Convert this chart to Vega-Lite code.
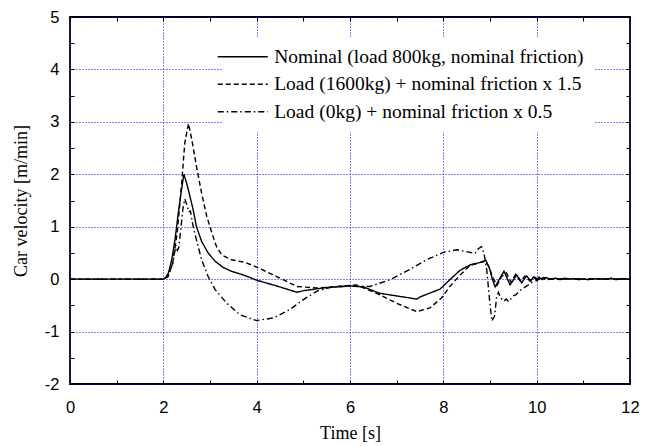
{
  "$schema": "https://vega.github.io/schema/vega-lite/v6.json",
  "width": 560,
  "height": 367,
  "autosize": "none",
  "padding": {"left": 70, "top": 17, "right": 23, "bottom": 62},
  "background": "white",
  "config": {
    "view": {"stroke": "black", "strokeWidth": 1.8},
    "axis": {"domain": false}
  },
  "data": {"values": [
    {"s":"Nominal (load 800kg, nominal friction)","t":0,"v":0},
    {"s":"Nominal (load 800kg, nominal friction)","t":2.0,"v":0},
    {"s":"Nominal (load 800kg, nominal friction)","t":2.05,"v":0.03},
    {"s":"Nominal (load 800kg, nominal friction)","t":2.11,"v":0.12},
    {"s":"Nominal (load 800kg, nominal friction)","t":2.18,"v":0.37},
    {"s":"Nominal (load 800kg, nominal friction)","t":2.25,"v":0.75},
    {"s":"Nominal (load 800kg, nominal friction)","t":2.32,"v":1.26},
    {"s":"Nominal (load 800kg, nominal friction)","t":2.39,"v":1.71},
    {"s":"Nominal (load 800kg, nominal friction)","t":2.44,"v":2.0},
    {"s":"Nominal (load 800kg, nominal friction)","t":2.50,"v":1.83},
    {"s":"Nominal (load 800kg, nominal friction)","t":2.57,"v":1.58},
    {"s":"Nominal (load 800kg, nominal friction)","t":2.64,"v":1.32},
    {"s":"Nominal (load 800kg, nominal friction)","t":2.71,"v":1.0},
    {"s":"Nominal (load 800kg, nominal friction)","t":2.82,"v":0.72},
    {"s":"Nominal (load 800kg, nominal friction)","t":2.96,"v":0.5},
    {"s":"Nominal (load 800kg, nominal friction)","t":3.11,"v":0.34},
    {"s":"Nominal (load 800kg, nominal friction)","t":3.29,"v":0.22},
    {"s":"Nominal (load 800kg, nominal friction)","t":3.46,"v":0.15},
    {"s":"Nominal (load 800kg, nominal friction)","t":3.68,"v":0.09},
    {"s":"Nominal (load 800kg, nominal friction)","t":3.8,"v":0.05},
    {"s":"Nominal (load 800kg, nominal friction)","t":4.0,"v":-0.02},
    {"s":"Nominal (load 800kg, nominal friction)","t":4.43,"v":-0.13},
    {"s":"Nominal (load 800kg, nominal friction)","t":4.86,"v":-0.25},
    {"s":"Nominal (load 800kg, nominal friction)","t":5.0,"v":-0.22},
    {"s":"Nominal (load 800kg, nominal friction)","t":5.5,"v":-0.16},
    {"s":"Nominal (load 800kg, nominal friction)","t":6.0,"v":-0.13},
    {"s":"Nominal (load 800kg, nominal friction)","t":6.29,"v":-0.15},
    {"s":"Nominal (load 800kg, nominal friction)","t":6.64,"v":-0.27},
    {"s":"Nominal (load 800kg, nominal friction)","t":7.07,"v":-0.33},
    {"s":"Nominal (load 800kg, nominal friction)","t":7.43,"v":-0.38},
    {"s":"Nominal (load 800kg, nominal friction)","t":7.5,"v":-0.34},
    {"s":"Nominal (load 800kg, nominal friction)","t":7.93,"v":-0.19},
    {"s":"Nominal (load 800kg, nominal friction)","t":8.14,"v":-0.01},
    {"s":"Nominal (load 800kg, nominal friction)","t":8.36,"v":0.17},
    {"s":"Nominal (load 800kg, nominal friction)","t":8.57,"v":0.27},
    {"s":"Nominal (load 800kg, nominal friction)","t":8.79,"v":0.32},
    {"s":"Nominal (load 800kg, nominal friction)","t":8.91,"v":0.36},
    {"s":"Nominal (load 800kg, nominal friction)","t":9.0,"v":0.18},
    {"s":"Nominal (load 800kg, nominal friction)","t":9.05,"v":0.0},
    {"s":"Nominal (load 800kg, nominal friction)","t":9.11,"v":-0.15},
    {"s":"Nominal (load 800kg, nominal friction)","t":9.2,"v":0.0},
    {"s":"Nominal (load 800kg, nominal friction)","t":9.3,"v":0.15},
    {"s":"Nominal (load 800kg, nominal friction)","t":9.36,"v":0.03},
    {"s":"Nominal (load 800kg, nominal friction)","t":9.43,"v":-0.11},
    {"s":"Nominal (load 800kg, nominal friction)","t":9.5,"v":-0.02},
    {"s":"Nominal (load 800kg, nominal friction)","t":9.57,"v":0.08},
    {"s":"Nominal (load 800kg, nominal friction)","t":9.62,"v":0.02},
    {"s":"Nominal (load 800kg, nominal friction)","t":9.68,"v":-0.07},
    {"s":"Nominal (load 800kg, nominal friction)","t":9.73,"v":0.0},
    {"s":"Nominal (load 800kg, nominal friction)","t":9.79,"v":0.06},
    {"s":"Nominal (load 800kg, nominal friction)","t":9.87,"v":-0.04},
    {"s":"Nominal (load 800kg, nominal friction)","t":9.93,"v":0.04},
    {"s":"Nominal (load 800kg, nominal friction)","t":10.0,"v":-0.02},
    {"s":"Nominal (load 800kg, nominal friction)","t":10.05,"v":0.04},
    {"s":"Nominal (load 800kg, nominal friction)","t":10.12,"v":-0.01},
    {"s":"Nominal (load 800kg, nominal friction)","t":10.2,"v":0.03},
    {"s":"Nominal (load 800kg, nominal friction)","t":10.3,"v":0.0},
    {"s":"Nominal (load 800kg, nominal friction)","t":10.4,"v":0.02},
    {"s":"Nominal (load 800kg, nominal friction)","t":10.5,"v":-0.01},
    {"s":"Nominal (load 800kg, nominal friction)","t":10.6,"v":0.02},
    {"s":"Nominal (load 800kg, nominal friction)","t":10.7,"v":0.0},
    {"s":"Nominal (load 800kg, nominal friction)","t":10.8,"v":0.01},
    {"s":"Nominal (load 800kg, nominal friction)","t":10.9,"v":-0.01},
    {"s":"Nominal (load 800kg, nominal friction)","t":11.0,"v":0.01},
    {"s":"Nominal (load 800kg, nominal friction)","t":11.1,"v":-0.01},
    {"s":"Nominal (load 800kg, nominal friction)","t":11.3,"v":0.01},
    {"s":"Nominal (load 800kg, nominal friction)","t":11.5,"v":0.0},
    {"s":"Nominal (load 800kg, nominal friction)","t":11.6,"v":0.02},
    {"s":"Nominal (load 800kg, nominal friction)","t":11.7,"v":-0.01},
    {"s":"Nominal (load 800kg, nominal friction)","t":11.85,"v":0.01},
    {"s":"Nominal (load 800kg, nominal friction)","t":12.0,"v":0.0},

    {"s":"Load (1600kg) + nominal friction x 1.5","t":0,"v":0},
    {"s":"Load (1600kg) + nominal friction x 1.5","t":2.0,"v":0},
    {"s":"Load (1600kg) + nominal friction x 1.5","t":2.1,"v":0.05},
    {"s":"Load (1600kg) + nominal friction x 1.5","t":2.2,"v":0.3},
    {"s":"Load (1600kg) + nominal friction x 1.5","t":2.3,"v":0.9},
    {"s":"Load (1600kg) + nominal friction x 1.5","t":2.39,"v":1.8},
    {"s":"Load (1600kg) + nominal friction x 1.5","t":2.46,"v":2.6},
    {"s":"Load (1600kg) + nominal friction x 1.5","t":2.54,"v":2.97},
    {"s":"Load (1600kg) + nominal friction x 1.5","t":2.61,"v":2.66},
    {"s":"Load (1600kg) + nominal friction x 1.5","t":2.71,"v":2.15},
    {"s":"Load (1600kg) + nominal friction x 1.5","t":2.82,"v":1.64},
    {"s":"Load (1600kg) + nominal friction x 1.5","t":2.93,"v":1.2},
    {"s":"Load (1600kg) + nominal friction x 1.5","t":3.04,"v":0.88},
    {"s":"Load (1600kg) + nominal friction x 1.5","t":3.14,"v":0.62},
    {"s":"Load (1600kg) + nominal friction x 1.5","t":3.25,"v":0.46},
    {"s":"Load (1600kg) + nominal friction x 1.5","t":3.46,"v":0.37},
    {"s":"Load (1600kg) + nominal friction x 1.5","t":3.75,"v":0.32},
    {"s":"Load (1600kg) + nominal friction x 1.5","t":4.0,"v":0.23},
    {"s":"Load (1600kg) + nominal friction x 1.5","t":4.43,"v":0.05},
    {"s":"Load (1600kg) + nominal friction x 1.5","t":4.86,"v":-0.14},
    {"s":"Load (1600kg) + nominal friction x 1.5","t":5.29,"v":-0.17},
    {"s":"Load (1600kg) + nominal friction x 1.5","t":5.71,"v":-0.14},
    {"s":"Load (1600kg) + nominal friction x 1.5","t":6.14,"v":-0.11},
    {"s":"Load (1600kg) + nominal friction x 1.5","t":6.57,"v":-0.27},
    {"s":"Load (1600kg) + nominal friction x 1.5","t":7.0,"v":-0.46},
    {"s":"Load (1600kg) + nominal friction x 1.5","t":7.43,"v":-0.62},
    {"s":"Load (1600kg) + nominal friction x 1.5","t":7.71,"v":-0.55},
    {"s":"Load (1600kg) + nominal friction x 1.5","t":7.96,"v":-0.36},
    {"s":"Load (1600kg) + nominal friction x 1.5","t":8.14,"v":-0.14},
    {"s":"Load (1600kg) + nominal friction x 1.5","t":8.36,"v":0.08},
    {"s":"Load (1600kg) + nominal friction x 1.5","t":8.57,"v":0.26},
    {"s":"Load (1600kg) + nominal friction x 1.5","t":8.76,"v":0.31},
    {"s":"Load (1600kg) + nominal friction x 1.5","t":8.9,"v":0.34},
    {"s":"Load (1600kg) + nominal friction x 1.5","t":8.97,"v":0.25},
    {"s":"Load (1600kg) + nominal friction x 1.5","t":9.05,"v":0.05},
    {"s":"Load (1600kg) + nominal friction x 1.5","t":9.15,"v":-0.12},
    {"s":"Load (1600kg) + nominal friction x 1.5","t":9.25,"v":0.05},
    {"s":"Load (1600kg) + nominal friction x 1.5","t":9.35,"v":0.12},
    {"s":"Load (1600kg) + nominal friction x 1.5","t":9.45,"v":-0.06},
    {"s":"Load (1600kg) + nominal friction x 1.5","t":9.55,"v":0.09},
    {"s":"Load (1600kg) + nominal friction x 1.5","t":9.65,"v":-0.04},
    {"s":"Load (1600kg) + nominal friction x 1.5","t":9.75,"v":0.06},
    {"s":"Load (1600kg) + nominal friction x 1.5","t":9.85,"v":-0.03},
    {"s":"Load (1600kg) + nominal friction x 1.5","t":9.95,"v":0.04},
    {"s":"Load (1600kg) + nominal friction x 1.5","t":10.05,"v":-0.01},
    {"s":"Load (1600kg) + nominal friction x 1.5","t":10.15,"v":0.03},
    {"s":"Load (1600kg) + nominal friction x 1.5","t":10.3,"v":0.0},
    {"s":"Load (1600kg) + nominal friction x 1.5","t":10.5,"v":0.01},
    {"s":"Load (1600kg) + nominal friction x 1.5","t":11.0,"v":0.0},
    {"s":"Load (1600kg) + nominal friction x 1.5","t":12.0,"v":0.0},

    {"s":"Load (0kg) + nominal friction x 0.5","t":0,"v":0},
    {"s":"Load (0kg) + nominal friction x 0.5","t":2.0,"v":0},
    {"s":"Load (0kg) + nominal friction x 0.5","t":2.1,"v":0.05},
    {"s":"Load (0kg) + nominal friction x 0.5","t":2.2,"v":0.3},
    {"s":"Load (0kg) + nominal friction x 0.5","t":2.27,"v":0.65},
    {"s":"Load (0kg) + nominal friction x 0.5","t":2.3,"v":0.55},
    {"s":"Load (0kg) + nominal friction x 0.5","t":2.33,"v":0.6},
    {"s":"Load (0kg) + nominal friction x 0.5","t":2.38,"v":1.0},
    {"s":"Load (0kg) + nominal friction x 0.5","t":2.42,"v":1.35},
    {"s":"Load (0kg) + nominal friction x 0.5","t":2.46,"v":1.53},
    {"s":"Load (0kg) + nominal friction x 0.5","t":2.51,"v":1.4},
    {"s":"Load (0kg) + nominal friction x 0.5","t":2.54,"v":1.28},
    {"s":"Load (0kg) + nominal friction x 0.5","t":2.58,"v":1.3},
    {"s":"Load (0kg) + nominal friction x 0.5","t":2.64,"v":1.0},
    {"s":"Load (0kg) + nominal friction x 0.5","t":2.71,"v":0.75},
    {"s":"Load (0kg) + nominal friction x 0.5","t":2.82,"v":0.37},
    {"s":"Load (0kg) + nominal friction x 0.5","t":2.96,"v":0.05},
    {"s":"Load (0kg) + nominal friction x 0.5","t":3.11,"v":-0.2},
    {"s":"Load (0kg) + nominal friction x 0.5","t":3.36,"v":-0.46},
    {"s":"Load (0kg) + nominal friction x 0.5","t":3.64,"v":-0.68},
    {"s":"Load (0kg) + nominal friction x 0.5","t":4.0,"v":-0.79},
    {"s":"Load (0kg) + nominal friction x 0.5","t":4.36,"v":-0.74},
    {"s":"Load (0kg) + nominal friction x 0.5","t":4.71,"v":-0.58},
    {"s":"Load (0kg) + nominal friction x 0.5","t":5.0,"v":-0.39},
    {"s":"Load (0kg) + nominal friction x 0.5","t":5.29,"v":-0.23},
    {"s":"Load (0kg) + nominal friction x 0.5","t":5.57,"v":-0.16},
    {"s":"Load (0kg) + nominal friction x 0.5","t":6.0,"v":-0.13},
    {"s":"Load (0kg) + nominal friction x 0.5","t":6.43,"v":-0.14},
    {"s":"Load (0kg) + nominal friction x 0.5","t":6.86,"v":-0.01},
    {"s":"Load (0kg) + nominal friction x 0.5","t":7.29,"v":0.19},
    {"s":"Load (0kg) + nominal friction x 0.5","t":7.64,"v":0.37},
    {"s":"Load (0kg) + nominal friction x 0.5","t":8.0,"v":0.51},
    {"s":"Load (0kg) + nominal friction x 0.5","t":8.29,"v":0.56},
    {"s":"Load (0kg) + nominal friction x 0.5","t":8.57,"v":0.51},
    {"s":"Load (0kg) + nominal friction x 0.5","t":8.68,"v":0.49},
    {"s":"Load (0kg) + nominal friction x 0.5","t":8.75,"v":0.58},
    {"s":"Load (0kg) + nominal friction x 0.5","t":8.82,"v":0.62},
    {"s":"Load (0kg) + nominal friction x 0.5","t":8.87,"v":0.5},
    {"s":"Load (0kg) + nominal friction x 0.5","t":8.93,"v":0.18},
    {"s":"Load (0kg) + nominal friction x 0.5","t":8.99,"v":-0.39},
    {"s":"Load (0kg) + nominal friction x 0.5","t":9.04,"v":-0.8},
    {"s":"Load (0kg) + nominal friction x 0.5","t":9.1,"v":-0.7},
    {"s":"Load (0kg) + nominal friction x 0.5","t":9.14,"v":-0.35},
    {"s":"Load (0kg) + nominal friction x 0.5","t":9.18,"v":-0.25},
    {"s":"Load (0kg) + nominal friction x 0.5","t":9.23,"v":-0.36},
    {"s":"Load (0kg) + nominal friction x 0.5","t":9.3,"v":-0.42},
    {"s":"Load (0kg) + nominal friction x 0.5","t":9.35,"v":-0.38},
    {"s":"Load (0kg) + nominal friction x 0.5","t":9.4,"v":-0.43},
    {"s":"Load (0kg) + nominal friction x 0.5","t":9.5,"v":-0.32},
    {"s":"Load (0kg) + nominal friction x 0.5","t":9.55,"v":-0.3},
    {"s":"Load (0kg) + nominal friction x 0.5","t":9.64,"v":-0.22},
    {"s":"Load (0kg) + nominal friction x 0.5","t":9.7,"v":-0.18},
    {"s":"Load (0kg) + nominal friction x 0.5","t":9.79,"v":-0.13},
    {"s":"Load (0kg) + nominal friction x 0.5","t":9.9,"v":-0.06},
    {"s":"Load (0kg) + nominal friction x 0.5","t":10.0,"v":-0.03},
    {"s":"Load (0kg) + nominal friction x 0.5","t":10.1,"v":0.02},
    {"s":"Load (0kg) + nominal friction x 0.5","t":10.2,"v":-0.01},
    {"s":"Load (0kg) + nominal friction x 0.5","t":10.4,"v":0.01},
    {"s":"Load (0kg) + nominal friction x 0.5","t":10.6,"v":0.0},
    {"s":"Load (0kg) + nominal friction x 0.5","t":11.0,"v":0.01},
    {"s":"Load (0kg) + nominal friction x 0.5","t":12.0,"v":0.0}
  ]},
  "resolve": {"axis": {"x": "independent", "y": "independent"}},
  "layer": [
    {
      "mark": {"type": "line", "color": "black", "strokeWidth": 1.4, "clip": true},
      "encoding": {
        "x": {"field": "t", "type": "quantitative",
          "scale": {"domain": [0, 12], "nice": false, "zero": false},
          "axis": {"orient": "bottom", "values": [0,1,2,3,4,5,6,7,8,9,10,11,12],
            "labelExpr": "datum.value % 2 === 0 ? '' + datum.value : ''",
            "grid": true, "gridColor": "#0000ff", "gridDash": [1, 2], "gridWidth": 1,
            "gridOpacity": {"condition": {"test": "datum.value % 2 === 0", "value": 1}, "value": 0},
            "tickSize": -4, "tickColor": "black", "tickWidth": 1,
            "labelFont": "Liberation Sans", "labelFontSize": 16.5, "labelColor": "black",
            "labelPadding": 19, "labelFlush": false,
            "title": "Time [s]", "titleFont": "Liberation Serif", "titleFontSize": 18,
            "titleFontWeight": "normal", "titleColor": "black",
            "titleX": 280, "titleY": 49, "titleBaseline": "middle", "titleAlign": "center"}},
        "y": {"field": "v", "type": "quantitative",
          "scale": {"domain": [-2, 5], "nice": false, "zero": false},
          "axis": {"orient": "left", "values": [-2,-1.5,-1,-0.5,0,0.5,1,1.5,2,2.5,3,3.5,4,4.5,5],
            "labelExpr": "datum.value % 1 === 0 ? '' + datum.value : ''",
            "grid": true, "gridColor": "#0000ff", "gridDash": [1, 2], "gridWidth": 1,
            "gridOpacity": {"condition": {"test": "datum.value % 1 === 0", "value": 1}, "value": 0},
            "tickSize": -4, "tickColor": "black", "tickWidth": 1,
            "labelFont": "Liberation Sans", "labelFontSize": 16.5, "labelColor": "black",
            "labelPadding": 15, "labelFlush": false,
            "title": "Car velocity [m/min]", "titleFont": "Liberation Serif", "titleFontSize": 18,
            "titleFontWeight": "normal", "titleColor": "black",
            "titleX": -49, "titleY": 183.5, "titleAngle": -90, "titleBaseline": "middle", "titleAlign": "center"}},
        "strokeDash": {"field": "s", "type": "nominal",
          "scale": {"domain": ["Nominal (load 800kg, nominal friction)", "Load (1600kg) + nominal friction x 1.5", "Load (0kg) + nominal friction x 0.5"],
            "range": [[1, 0], [5, 3], [6, 3, 1.5, 3]]},
          "legend": {"orient": "none", "legendX": 153, "legendY": 20, "title": null,
            "fillColor": "white", "padding": 10, "symbolType": "M-3,0H3", "symbolSize": 278,
            "symbolStrokeWidth": 1.4, "symbolStrokeColor": "black",
            "labelFont": "Liberation Serif", "labelFontSize": 19.5, "labelColor": "black",
            "labelLimit": 600, "labelOffset": 21.7, "rowPadding": 6.5}}
      }
    },
    {
      "mark": {"type": "line", "opacity": 0},
      "encoding": {
        "x": {"field": "t", "type": "quantitative",
          "axis": {"orient": "top", "values": [0,1,2,3,4,5,6,7,8,9,10,11,12], "labels": false, "title": null,
            "grid": false, "tickSize": -4, "tickColor": "black", "domain": false}},
        "y": {"field": "v", "type": "quantitative",
          "axis": {"orient": "right", "values": [-2,-1.5,-1,-0.5,0,0.5,1,1.5,2,2.5,3,3.5,4,4.5,5], "labels": false, "title": null,
            "grid": false, "tickSize": -4, "tickColor": "black", "domain": false}},
        "detail": {"field": "s", "type": "nominal"}
      }
    }
  ]
}
